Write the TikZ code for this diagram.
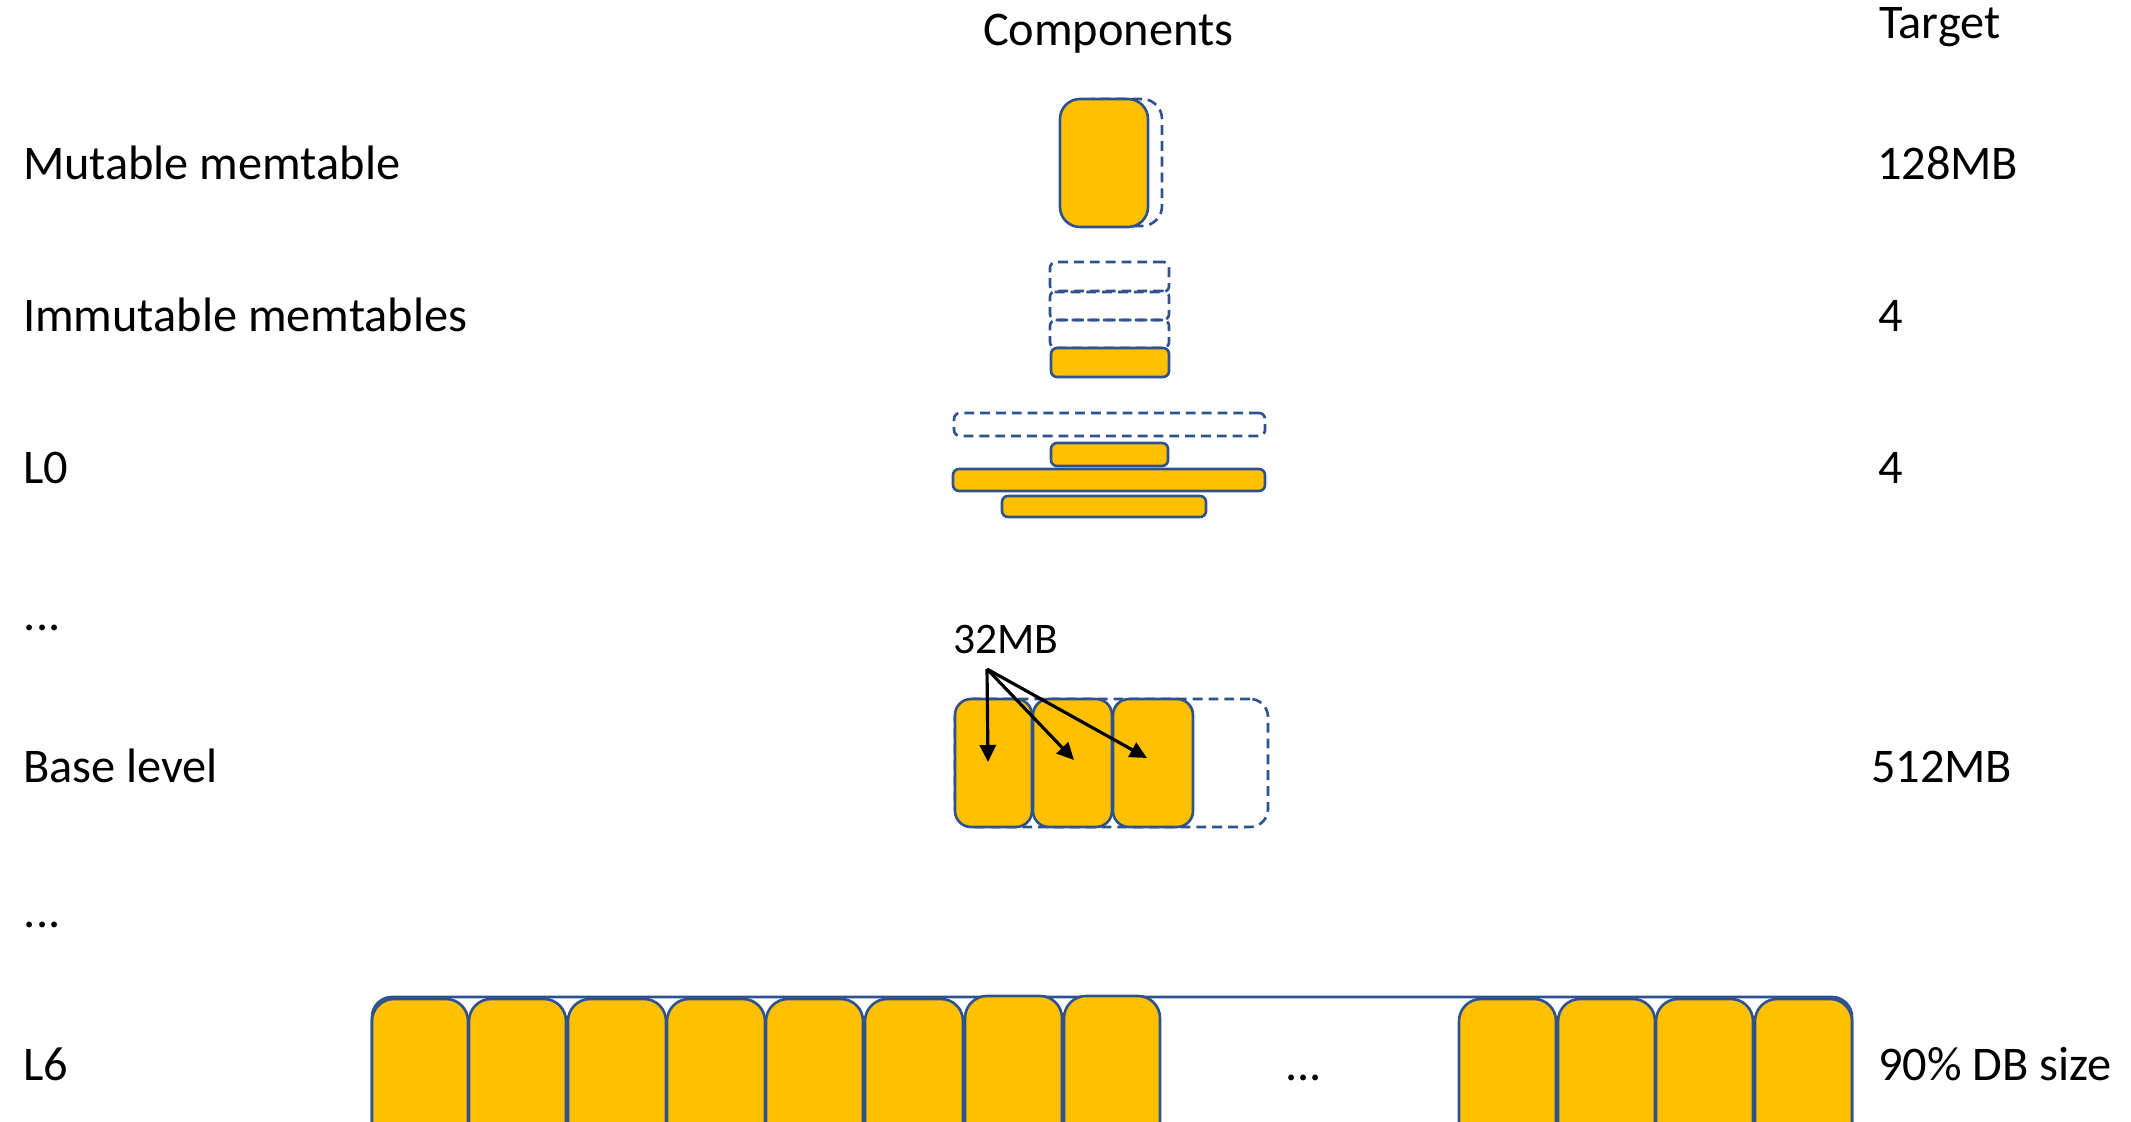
\documentclass[tikz,border=0pt]{standalone}
\usepackage{fontspec}
\setmainfont{Carlito}
\usetikzlibrary{arrows.meta}
\definecolor{gold}{HTML}{FFC000}
\definecolor{edgeblue}{HTML}{2F528F}
\newcommand\bx[6]{\node[#6,minimum width={(#4-#2)*0.01cm},minimum height={(#5-#3)*0.01cm}] (#1) at ({(#2+#4)/2},{(#3+#5)/2}) {};}
\begin{document}
\begin{tikzpicture}[x=0.01cm,y=-0.01cm,
  font=\fontsize{13.75}{16}\selectfont,
  lbl/.style={anchor=base west,inner sep=0pt,outer sep=0pt},
  shp/.style={draw=edgeblue,line width=0.75pt,inner sep=0pt,outer sep=0pt,rectangle},
  gbox/.style={shp,fill=gold},
  dbox/.style={shp,dash pattern=on 2.8pt off 1.7pt},
  big/.style={rounded corners=0.2cm},
  thin/.style={rounded corners=0.06cm},
  arr/.style={draw=black,line width=0.9pt,-{Triangle[length=0.17cm,width=0.16cm]}}]
\useasboundingbox (0,0) rectangle (2131,1122);
\clip (0,0) rectangle (2131,1122);

% headers
\node[lbl] (hcomp) at (983,46) {Components};
\node[lbl] (htarget) at (1879,39) {Target};

% left labels
\node[lbl] (lmut) at (23,180) {Mutable memtable};
\node[lbl] (limm) at (23,332) {Immutable memtables};
\node[lbl] (ll0) at (23,484) {L0};
\node[lbl] (ldots1) at (24,630) {...};
\node[lbl] (lbase) at (23,782) {Base level};
\node[lbl] (ldots2) at (24,927) {...};
\node[lbl] (ll6) at (23,1080) {L6};

% targets
\node[lbl] (tmut) at (1877,180) {128MB};
\node[lbl] (timm) at (1878,332) {4};
\node[lbl] (tl0) at (1878,484) {4};
\node[lbl] (tbase) at (1871,782) {512MB};
\node[lbl] (tl6) at (1878,1080) {90\% DB size};

% mutable memtable
\bx{mutd}{1074}{99}{1162}{226}{dbox,big}
\bx{mut}{1060}{99}{1148}{227}{gbox,big}

% immutable memtables
\bx{imd1}{1050}{262}{1169}{292}{dbox,thin}
\bx{imd2}{1050}{291}{1169}{320}{dbox,thin}
\bx{imd3}{1050}{320}{1169}{348}{dbox,thin}
\bx{im}{1051}{348}{1169}{377}{gbox,thin}

% L0
\bx{l0d}{954}{413}{1265}{436}{dbox,thin}
\bx{l0a}{1051}{443}{1168}{466}{gbox,thin}
\bx{l0b}{953}{469}{1265}{491}{gbox,thin}
\bx{l0c}{1002}{496}{1206}{517}{gbox,thin}

% base level
\bx{based}{955}{699}{1268}{827}{dbox,rounded corners=0.18cm}
\bx{b1}{955}{699}{1032}{827}{gbox,rounded corners=0.16cm}
\bx{b2}{1033}{699}{1112}{827}{gbox,rounded corners=0.16cm}
\bx{b3}{1113}{699}{1193}{827}{gbox,rounded corners=0.16cm}
\node[lbl,font=\fontsize{12.4}{14}\selectfont] (mb32) at (953,653) {32MB};
\coordinate (src) at (987,669);
\coordinate (t1) at (988,762);
\coordinate (t2) at (1074,760);
\coordinate (t3) at (1147,758);
\draw[arr] (src) -- (t1);
\draw[arr] (src) -- (t2);
\draw[arr] (src) -- (t3);

% L6
\bx{l6c}{372}{997}{1852}{1200}{shp,big}
\bx{s1}{372}{999}{468}{1200}{gbox,rounded corners=0.22cm}
\bx{s2}{469}{999}{566}{1200}{gbox,rounded corners=0.22cm}
\bx{s3}{568}{999}{666}{1200}{gbox,rounded corners=0.22cm}
\bx{s4}{667}{999}{765}{1200}{gbox,rounded corners=0.22cm}
\bx{s5}{766}{999}{863}{1200}{gbox,rounded corners=0.22cm}
\bx{s6}{865}{999}{963}{1200}{gbox,rounded corners=0.22cm}
\bx{s7}{965}{996}{1062}{1200}{gbox,rounded corners=0.22cm}
\bx{s8}{1064}{996}{1160}{1200}{gbox,rounded corners=0.22cm}
\bx{s9}{1459}{999}{1556}{1200}{gbox,rounded corners=0.22cm}
\bx{s10}{1558}{999}{1655}{1200}{gbox,rounded corners=0.22cm}
\bx{s11}{1656}{999}{1753}{1200}{gbox,rounded corners=0.22cm}
\bx{s12}{1755}{999}{1852}{1200}{gbox,rounded corners=0.22cm}
\node[lbl] (l6dots) at (1285,1080) {...};
\end{tikzpicture}
\end{document}
